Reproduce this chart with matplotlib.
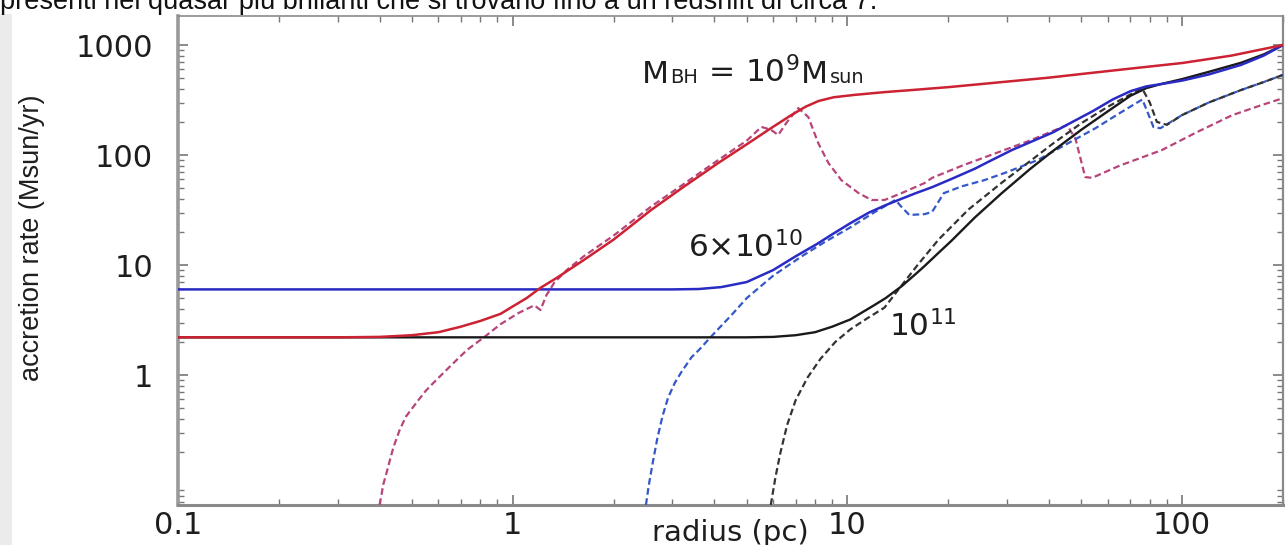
import matplotlib.pyplot as plt
from matplotlib.patches import Rectangle
from matplotlib.offsetbox import TextArea, HPacker, AnnotationBbox
from matplotlib.ticker import LogLocator, NullFormatter, FixedLocator, FixedFormatter

# accretion rate vs radius for three black-hole masses
# solid = steady solution, dashed = time-dependent run

r_red = [0.1, 0.2, 0.3, 0.4, 0.5, 0.6, 0.7, 0.8, 0.92, 1.0, 1.1, 1.21, 1.35, 1.63, 2.0,
         2.59, 3.2, 4.11, 5.0, 5.8, 6.8, 7.5, 8.2, 9.1, 10.5, 12.9, 16, 20.2, 30, 40,
         50, 70, 100, 140, 200]
rate_red = [2.2, 2.2, 2.2, 2.22, 2.3, 2.45, 2.75, 3.1, 3.6, 4.2, 5.0, 6.2, 7.6, 11.1, 17,
            31.6, 50, 84.6, 125, 169, 231, 275, 310, 335, 352, 373, 392, 415, 465, 505,
            545, 610, 686, 800, 1000]

r_red_dash = [0.40, 0.405, 0.41, 0.42, 0.43, 0.44, 0.46, 0.48, 0.52, 0.55, 0.58, 0.65,
              0.73, 0.82, 0.92, 1.04, 1.16, 1.21, 1.26, 1.33, 1.45, 1.63, 2.0, 2.59, 3.2,
              4.11, 5.0, 5.53, 5.9, 6.21, 6.6, 7.13, 7.64, 8.18, 8.77, 9.59, 10.8, 11.8,
              12.9, 14.5, 17.0, 17.9, 22, 28, 35, 42, 45.3, 48, 51.3, 53.8, 65, 87, 110,
              141, 170, 204]
rate_red_dash = [0.066, 0.08, 0.1, 0.13, 0.17, 0.22, 0.32, 0.42, 0.58, 0.72, 0.85, 1.2,
                 1.69, 2.2, 2.9, 3.66, 4.3, 3.9, 5.3, 6.9, 9.0, 12.0, 18.5, 34, 53,
                 90, 135, 180, 170, 152, 200, 267, 221, 128, 84.6, 59, 45, 39,
                 39, 45, 55.6, 62, 80, 105, 135, 170, 187, 140, 63, 62, 80, 111, 160,
                 230, 280, 335]

r_blue = [0.1, 1, 2, 3, 3.6, 4.2, 5.0, 6.0, 7.0, 8.1, 9.0, 10.2, 11.6, 13, 14.5, 16,
          17.9, 20.3, 24, 27, 31, 36, 41, 47, 54, 62, 70, 78, 86, 100, 120, 150, 175, 200]
rate_blue = [6.0, 6.0, 6.0, 6.0, 6.05, 6.3, 7.0, 9.0, 12.0, 15.5, 19.0, 24, 30, 35, 40, 45,
             51, 60, 75, 90, 111, 135, 160, 200, 250, 320, 380, 420, 440, 475, 540, 660,
             800, 1000]

r_blue_dash = [2.5, 2.55, 2.62, 2.7, 2.8, 2.91, 3.05, 3.2, 3.42, 3.6, 4.0, 4.5, 5.0, 6.0,
               7.3, 8.5, 10.2, 12, 13.9, 14.6, 15.3, 17.0, 17.9, 19.4, 22, 25.6, 30, 37,
               45, 55, 65, 72, 76, 79, 82, 86, 100, 120, 150, 175, 200]
rate_blue_dash = [0.066, 0.1, 0.16, 0.26, 0.42, 0.62, 0.85, 1.08, 1.45, 1.69, 2.4, 3.5,
                  5.0, 8.0, 12, 16, 22, 30, 39, 33, 28.5, 29, 30.4, 45, 52, 59, 70, 90,
                  125, 175, 240, 290, 320, 240, 180, 175, 231, 300, 390, 460, 535]

r_black = [0.1, 1, 3, 5, 6, 7, 8, 9, 10.2, 12, 13, 14.5, 16, 17, 18.5, 20.4, 24, 28.9, 35,
           40.8, 50, 60, 70, 78, 86, 100, 120, 150, 175, 200]
rate_black = [2.2, 2.2, 2.2, 2.2, 2.22, 2.3, 2.45, 2.75, 3.2, 4.3, 5.0, 6.4, 8.3, 9.8,
              12.5, 16.5, 27, 45, 74, 107, 170, 250, 345, 405, 440, 490, 570, 690, 820,
              1000]

r_black_dash = [5.9, 6.1, 6.3, 6.6, 7.0, 7.6, 8.3, 9.2, 10.2, 11.5, 12.9, 14.5, 16.2, 18.7,
                23.0, 28.9, 36.3, 40.8, 50, 60, 70, 76, 80, 84, 90, 100, 120, 150, 175, 200]
rate_black_dash = [0.066, 0.12, 0.195, 0.35, 0.59, 0.95, 1.4, 2.0, 2.6, 3.3, 4.1, 6.5, 10,
                   17, 32, 56, 95, 125, 195, 275, 355, 400, 300, 200, 188, 231, 300, 390,
                   460, 535]

x_ticks = [0.1, 1, 10, 100]
x_labels = ['0.1', '1', '10', '100']
y_ticks = [1, 10, 100, 1000]
y_labels = ['1', '10', '100', '1000']

W, H = 1285, 545
fig = plt.figure(figsize=(W / 100, H / 100), dpi=100)
fig.patch.set_facecolor('white')

# light grey strip down the left edge
fig.patches.append(Rectangle((0, 0), 12 / W, 1 - 14 / H, transform=fig.transFigure,
                             facecolor='#ebebeb', edgecolor='none', zorder=0))

ax = fig.add_axes([178 / W, 40 / H, (1283 - 178) / W, (505 - 16) / H])
ax.set_xscale('log')
ax.set_yscale('log')
ax.set_xlim(0.1, 200)
ax.set_ylim(0.0658, 1835)

dash = (3.0, 1.6)
ax.plot(r_black, rate_black, color='#1a1a1a', lw=1.7, zorder=5)
ax.plot(r_blue, rate_blue, color='#2a2ac4', lw=1.8, zorder=5)
ax.plot(r_red, rate_red, color='#cc2233', lw=1.8, zorder=5)
ax.plot(r_red_dash, rate_red_dash, color='#b8457a', lw=1.6, dashes=dash, zorder=4)
ax.plot(r_blue_dash, rate_blue_dash, color='#3558c8', lw=1.6, dashes=dash, zorder=4)
ax.plot(r_black_dash, rate_black_dash, color='#333333', lw=1.6, dashes=dash, zorder=4)

ax.xaxis.set_major_locator(FixedLocator(x_ticks))
ax.xaxis.set_major_formatter(FixedFormatter(x_labels))
ax.yaxis.set_major_locator(FixedLocator(y_ticks))
ax.yaxis.set_major_formatter(FixedFormatter(y_labels))
ax.xaxis.set_minor_locator(LogLocator(base=10, subs=range(2, 10), numticks=20))
ax.yaxis.set_minor_locator(LogLocator(base=10, subs=range(2, 10), numticks=20))
ax.xaxis.set_minor_formatter(NullFormatter())
ax.yaxis.set_minor_formatter(NullFormatter())
for lab in ax.get_xticklabels() + ax.get_yticklabels():
    lab.set_fontfamily('DejaVu Sans')
    lab.set_fontsize(22)
    lab.set_color('#1e1e1e')
ax.tick_params(which='both', direction='in', top=True, right=True, color='#777777')
ax.tick_params(which='major', length=7, width=1.2)
ax.tick_params(which='minor', length=4, width=1.0)
ax.tick_params(axis='y', pad=18)
ax.tick_params(axis='x', pad=4)

ax.spines['left'].set_linewidth(2.6)
ax.spines['left'].set_color('#9a9a9a')
ax.spines['bottom'].set_linewidth(2.2)
ax.spines['bottom'].set_color('#8a8a8a')
ax.spines['top'].set_linewidth(1.2)
ax.spines['top'].set_color('#8a8a8a')
ax.spines['right'].set_linewidth(1.6)
ax.spines['right'].set_color('#8a8a8a')

# axis titles placed by hand: the x title sits beside the tick labels
fig.text(730 / W, 1 - 541 / H, 'radius (pc)', family='DejaVu Sans', fontsize=21,
         color='#1e1e1e', ha='center', va='baseline')
fig.text(32 / W, 1 - 238 / H, 'accretion rate (Msun/yr)', family='Liberation Sans',
         fontsize=19.5, color='#1e1e1e', rotation=90, ha='center', va='center')

# mass label: small "BH" and "sun" sit on the baseline, not lowered
big = dict(family='DejaVu Sans', size=22.5, color='#1e1e1e')
small = dict(family='DejaVu Sans', size=14, color='#1e1e1e')
mass_label = HPacker(children=[TextArea('M', textprops=big),
                               TextArea('BH', textprops=small),
                               TextArea(r' = 10$^{\mathregular{9}}$', textprops=big),
                               TextArea('M', textprops=big),
                               TextArea('sun', textprops=small)],
                     align='baseline', pad=0, sep=1)
ax.add_artist(AnnotationBbox(mass_label, (2.43, 400), xycoords='data',
                             box_alignment=(0, 0), frameon=False, pad=0))

ann = dict(family='DejaVu Sans', color='#1e1e1e', va='baseline', ha='left', fontsize=22.5)
ax.text(3.34, 11.8, r'6$\times$10$^{\mathregular{10}}$', **ann)
ax.text(13.3, 2.26, r'10$^{\mathregular{11}}$', **ann)

fig.text(0.0, 1 - 9 / H,
         'presenti nei quasar più brillanti che si trovano fino a un redshift di circa 7.',
         family='Liberation Sans', fontsize=19.5, color='#111111', va='baseline', ha='left')

fig.savefig('out.png', dpi=100)
